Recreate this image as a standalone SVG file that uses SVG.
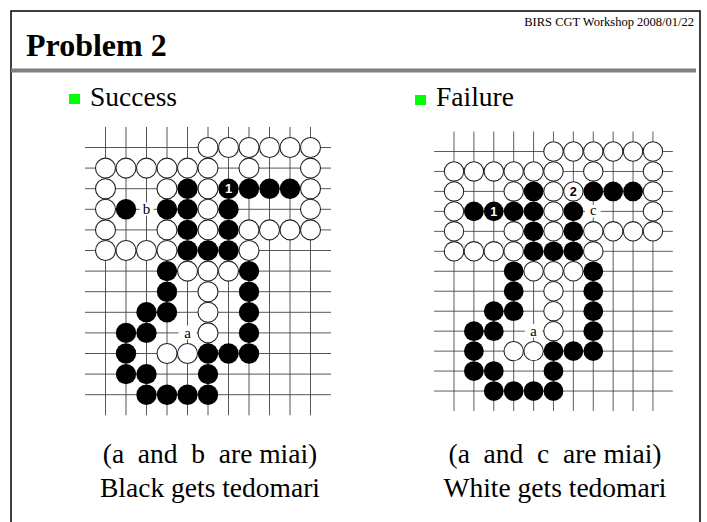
<svg xmlns="http://www.w3.org/2000/svg" xmlns:xlink="http://www.w3.org/1999/xlink" width="707" height="522" viewBox="0 0 707 522">
<style>
.serif{font-family:"Liberation Serif","Times New Roman",serif;fill:#000}
.grid{fill:none;stroke:#444;stroke-width:0.9}
.num{font-family:"Liberation Sans",Arial,sans-serif;font-weight:bold;font-size:13px;text-anchor:middle}
.lbl{font-family:"Liberation Serif","Times New Roman",serif;font-size:15px;text-anchor:middle;fill:#000}
.cap{font-family:"Liberation Serif","Times New Roman",serif;font-size:27.5px;text-anchor:middle;fill:#000;white-space:pre}
</style>
<defs>
<circle id="w" r="10" fill="#fff" stroke="#222" stroke-width="1.1"/>
<circle id="k" r="10.2" fill="#000"/>
<path id="gridpath" d="M0,-20.6V267.8M20.5,-20.6V267.8M41,-20.6V267.8M61.5,-20.6V267.8M82,-20.6V267.8M102.5,-20.6V267.8M123,-20.6V267.8M143.5,-20.6V267.8M164,-20.6V267.8M184.5,-20.6V267.8M205,-20.6V267.8M-20.5,0H225.5M-20.5,20.6H225.5M-20.5,41.2H225.5M-20.5,61.8H225.5M-20.5,82.4H225.5M-20.5,103H225.5M-20.5,123.6H225.5M-20.5,144.2H225.5M-20.5,164.8H225.5M-20.5,185.4H225.5M-20.5,206H225.5M-20.5,226.6H225.5M-20.5,247.2H225.5"/>
</defs>
<rect width="707" height="522" fill="#fff"/>
<g id="frame">
<rect x="11" y="11" width="689" height="530" fill="none" stroke="#000" stroke-width="1.5"/>
<line x1="11" y1="70.5" x2="696" y2="70.5" stroke="#808080" stroke-width="4"/>
</g>
<g id="header">
<text class="serif" x="694" y="26" font-size="12.5" text-anchor="end">BIRS CGT Workshop 2008/01/22</text>
<text class="serif" x="26" y="56" font-size="32" font-weight="bold">Problem 2</text>
</g>
<g id="bullet-success">
<rect x="69" y="94" width="11" height="10" fill="#00ff00"/>
<text class="serif" x="90" y="106" font-size="27.5">Success</text>
</g>
<g id="bullet-failure">
<rect x="415" y="95" width="11" height="10" fill="#00ff00"/>
<text class="serif" x="436" y="106" font-size="27.5">Failure</text>
</g>

<g id="board-success" transform="translate(105.5,147.5)">
<use href="#gridpath" class="grid"/>
<g id="s-white">
<use href="#w" x="102.5" y="0"/><use href="#w" x="123" y="0"/><use href="#w" x="143.5" y="0"/><use href="#w" x="164" y="0"/><use href="#w" x="184.5" y="0"/><use href="#w" x="205" y="0"/>
<use href="#w" x="0" y="20.6"/><use href="#w" x="20.5" y="20.6"/><use href="#w" x="41" y="20.6"/><use href="#w" x="61.5" y="20.6"/><use href="#w" x="82" y="20.6"/><use href="#w" x="102.5" y="20.6"/><use href="#w" x="143.5" y="20.6"/><use href="#w" x="205" y="20.6"/>
<use href="#w" x="0" y="41.2"/><use href="#w" x="61.5" y="41.2"/><use href="#w" x="102.5" y="41.2"/><use href="#w" x="205" y="41.2"/>
<use href="#w" x="0" y="61.8"/><use href="#w" x="102.5" y="61.8"/><use href="#w" x="205" y="61.8"/>
<use href="#w" x="0" y="82.4"/><use href="#w" x="61.5" y="82.4"/><use href="#w" x="102.5" y="82.4"/><use href="#w" x="143.5" y="82.4"/><use href="#w" x="164" y="82.4"/><use href="#w" x="184.5" y="82.4"/><use href="#w" x="205" y="82.4"/>
<use href="#w" x="0" y="103"/><use href="#w" x="20.5" y="103"/><use href="#w" x="41" y="103"/><use href="#w" x="61.5" y="103"/><use href="#w" x="143.5" y="103"/>
<use href="#w" x="82" y="123.6"/><use href="#w" x="102.5" y="123.6"/><use href="#w" x="123" y="123.6"/>
<use href="#w" x="102.5" y="144.2"/><use href="#w" x="102.5" y="164.8"/><use href="#w" x="102.5" y="185.4"/>
<use href="#w" x="61.5" y="206"/><use href="#w" x="82" y="206"/>
</g>
<g id="s-black">
<use href="#k" x="82" y="41.2"/><use href="#k" x="143.5" y="41.2"/><use href="#k" x="164" y="41.2"/><use href="#k" x="184.5" y="41.2"/>
<use href="#k" x="20.5" y="61.8"/><use href="#k" x="61.5" y="61.8"/><use href="#k" x="82" y="61.8"/><use href="#k" x="123" y="61.8"/>
<use href="#k" x="82" y="82.4"/><use href="#k" x="123" y="82.4"/>
<use href="#k" x="82" y="103"/><use href="#k" x="102.5" y="103"/><use href="#k" x="123" y="103"/>
<use href="#k" x="61.5" y="123.6"/><use href="#k" x="143.5" y="123.6"/>
<use href="#k" x="61.5" y="144.2"/><use href="#k" x="143.5" y="144.2"/>
<use href="#k" x="41" y="164.8"/><use href="#k" x="61.5" y="164.8"/><use href="#k" x="143.5" y="164.8"/>
<use href="#k" x="20.5" y="185.4"/><use href="#k" x="41" y="185.4"/><use href="#k" x="143.5" y="185.4"/>
<use href="#k" x="20.5" y="206"/><use href="#k" x="102.5" y="206"/><use href="#k" x="123" y="206"/><use href="#k" x="143.5" y="206"/>
<use href="#k" x="20.5" y="226.6"/><use href="#k" x="41" y="226.6"/><use href="#k" x="102.5" y="226.6"/>
<use href="#k" x="41" y="247.2"/><use href="#k" x="61.5" y="247.2"/><use href="#k" x="82" y="247.2"/><use href="#k" x="102.5" y="247.2"/>
</g>
<g id="s-move1">
<use href="#k" x="123" y="41.2"/>
<text class="num" x="123" y="45.8" fill="#fff">1</text>
</g>
<g id="s-label-b">
<rect x="34" y="55" width="14" height="13" fill="#fff"/>
<text class="lbl" x="41" y="66.8">b</text>
</g>
<g id="s-label-a">
<rect x="73" y="178" width="18" height="14" fill="#fff"/>
<text class="lbl" x="82" y="190">a</text>
</g>
</g>

<g id="board-failure" transform="translate(454,151.5) scale(0.9705,0.969)">
<use href="#gridpath" class="grid"/>
<g id="f-white">
<use href="#w" x="102.5" y="0"/><use href="#w" x="123" y="0"/><use href="#w" x="143.5" y="0"/><use href="#w" x="164" y="0"/><use href="#w" x="184.5" y="0"/><use href="#w" x="205" y="0"/>
<use href="#w" x="0" y="20.6"/><use href="#w" x="20.5" y="20.6"/><use href="#w" x="41" y="20.6"/><use href="#w" x="61.5" y="20.6"/><use href="#w" x="82" y="20.6"/><use href="#w" x="102.5" y="20.6"/><use href="#w" x="143.5" y="20.6"/><use href="#w" x="205" y="20.6"/>
<use href="#w" x="0" y="41.2"/><use href="#w" x="61.5" y="41.2"/><use href="#w" x="102.5" y="41.2"/><use href="#w" x="205" y="41.2"/>
<use href="#w" x="0" y="61.8"/><use href="#w" x="102.5" y="61.8"/><use href="#w" x="205" y="61.8"/>
<use href="#w" x="0" y="82.4"/><use href="#w" x="61.5" y="82.4"/><use href="#w" x="102.5" y="82.4"/><use href="#w" x="143.5" y="82.4"/><use href="#w" x="164" y="82.4"/><use href="#w" x="184.5" y="82.4"/><use href="#w" x="205" y="82.4"/>
<use href="#w" x="0" y="103"/><use href="#w" x="20.5" y="103"/><use href="#w" x="41" y="103"/><use href="#w" x="61.5" y="103"/><use href="#w" x="143.5" y="103"/>
<use href="#w" x="82" y="123.6"/><use href="#w" x="102.5" y="123.6"/><use href="#w" x="123" y="123.6"/>
<use href="#w" x="102.5" y="144.2"/><use href="#w" x="102.5" y="164.8"/><use href="#w" x="102.5" y="185.4"/>
<use href="#w" x="61.5" y="206"/><use href="#w" x="82" y="206"/>
</g>
<g id="f-black">
<use href="#k" x="82" y="41.2"/><use href="#k" x="143.5" y="41.2"/><use href="#k" x="164" y="41.2"/><use href="#k" x="184.5" y="41.2"/>
<use href="#k" x="20.5" y="61.8"/><use href="#k" x="61.5" y="61.8"/><use href="#k" x="82" y="61.8"/><use href="#k" x="123" y="61.8"/>
<use href="#k" x="82" y="82.4"/><use href="#k" x="123" y="82.4"/>
<use href="#k" x="82" y="103"/><use href="#k" x="102.5" y="103"/><use href="#k" x="123" y="103"/>
<use href="#k" x="61.5" y="123.6"/><use href="#k" x="143.5" y="123.6"/>
<use href="#k" x="61.5" y="144.2"/><use href="#k" x="143.5" y="144.2"/>
<use href="#k" x="41" y="164.8"/><use href="#k" x="61.5" y="164.8"/><use href="#k" x="143.5" y="164.8"/>
<use href="#k" x="20.5" y="185.4"/><use href="#k" x="41" y="185.4"/><use href="#k" x="143.5" y="185.4"/>
<use href="#k" x="20.5" y="206"/><use href="#k" x="102.5" y="206"/><use href="#k" x="123" y="206"/><use href="#k" x="143.5" y="206"/>
<use href="#k" x="20.5" y="226.6"/><use href="#k" x="41" y="226.6"/><use href="#k" x="102.5" y="226.6"/>
<use href="#k" x="41" y="247.2"/><use href="#k" x="61.5" y="247.2"/><use href="#k" x="82" y="247.2"/><use href="#k" x="102.5" y="247.2"/>
</g>
<g id="f-move1">
<use href="#k" x="41" y="61.8"/>
<text class="num" x="41" y="66.4" fill="#fff">1</text>
</g>
<g id="f-move2">
<use href="#w" x="123" y="41.2"/>
<text class="num" x="123" y="45.8" fill="#000">2</text>
</g>
<g id="f-label-c">
<rect x="135" y="55" width="16" height="13" fill="#fff"/>
<text class="lbl" x="143.5" y="66">c</text>
</g>
<g id="f-label-a">
<rect x="73" y="178" width="18" height="14" fill="#fff"/>
<text class="lbl" x="82" y="190">a</text>
</g>
</g>

<g id="caption-success">
<text class="cap" x="210" y="463" xml:space="preserve">(a  and  b  are miai)</text>
<text class="cap" x="210" y="497">Black gets tedomari</text>
</g>
<g id="caption-failure">
<text class="cap" x="555" y="463" xml:space="preserve">(a  and  c  are miai)</text>
<text class="cap" x="555" y="497">White gets tedomari</text>
</g>
</svg>
